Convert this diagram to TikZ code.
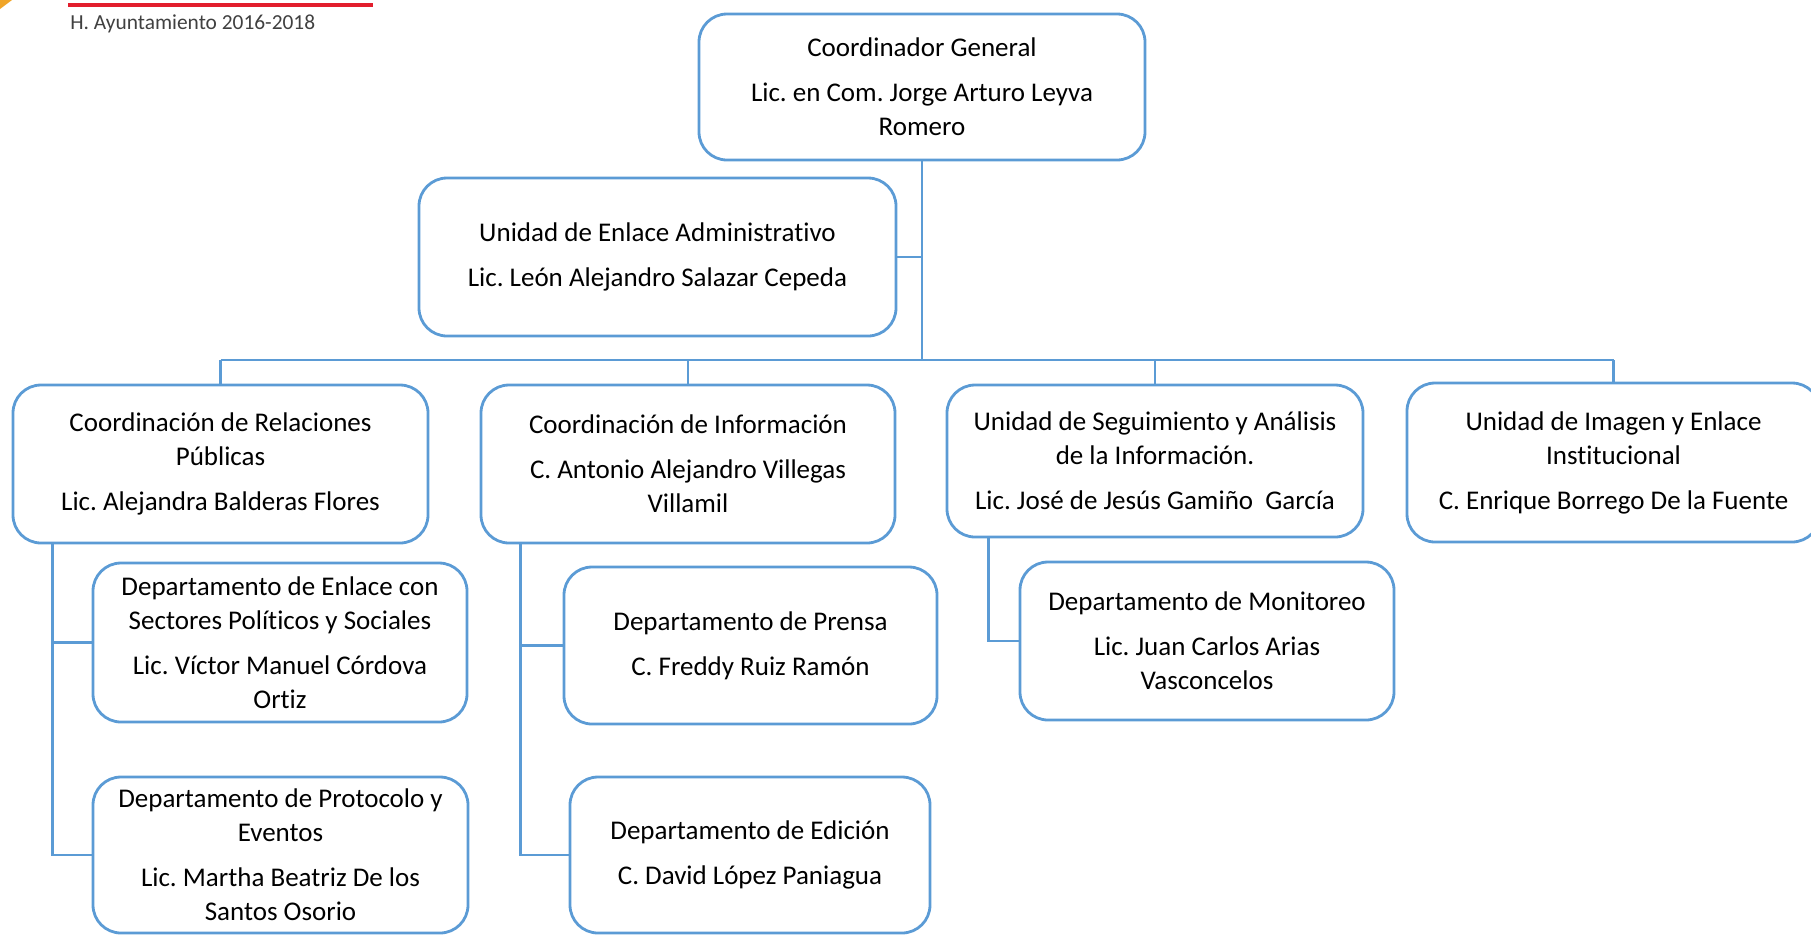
\documentclass[tikz,border=0pt]{standalone}
\usepackage{fontspec}
\setmainfont{Carlito}[Ligatures=NoCommon]
\usepackage{xcolor}
\usetikzlibrary{positioning}
\definecolor{orgblue}{RGB}{91,155,213}
\definecolor{headred}{RGB}{226,30,45}
\definecolor{headgray}{RGB}{64,64,64}
\definecolor{cornerorange}{RGB}{240,165,40}
\frenchspacing

\begin{document}
\begin{tikzpicture}[x=0.5pt, y=-0.5pt,
  box/.style={draw=orgblue, line width=1.4pt, rounded corners=14pt, fill=white, align=center,
    inner sep=0pt, font=\fontsize{13.5}{17}\selectfont},
  link/.style={draw=orgblue, line width=1.3pt}
]
\useasboundingbox (0,0) rectangle (1811,934);
\fill[cornerorange] (0,0) -- (12,0) -- (0,9) -- cycle;
\draw[headred, line width=2pt] (68,5) -- (373,5);
\node[anchor=base west, inner sep=0pt, text=headgray, font=\fontsize{10.7}{12}\selectfont] (head) at (70,29) {H. Ayuntamiento 2016-2018};

\node[box, minimum width=223pt, minimum height=73pt] (gen) at (922,87)
  {Coordinador General\\[5.5pt] Lic. en Com. Jorge Arturo Leyva\\ Romero};
\node[box, minimum width=238.5pt, minimum height=79pt] (adm) at (657.5,257)
  {Unidad de Enlace Administrativo\\[5.5pt] Lic. León Alejandro Salazar Cepeda};

\node[box, minimum width=207.5pt, minimum height=79pt] (rp) at (220.5,464)
  {Coordinación de Relaciones\\ Públicas\\[5.5pt] Lic. Alejandra Balderas Flores};
\node[box, minimum width=207pt, minimum height=79pt] (info) at (688,464)
  {Coordinación de Información\\[5.5pt] C. Antonio Alejandro Villegas\\ Villamil};
\node[box, minimum width=208pt, minimum height=76pt] (seg) at (1155,461)
  {Unidad de Seguimiento y Análisis\\ de la Información.\\[5.5pt] Lic. José de Jesús Gamiño~ García};
\node[box, minimum width=206.5pt, minimum height=79.5pt] (img) at (1613.5,462.5)
  {Unidad de Imagen y Enlace\\ Institucional\\[5.5pt] C. Enrique Borrego De la Fuente};

\node[box, minimum width=187pt, minimum height=79.5pt] (enl) at (280,642.5)
  {Departamento de Enlace con\\ Sectores Políticos y Sociales\\[5.5pt] Lic. Víctor Manuel Córdova\\ Ortiz};
\node[box, minimum width=187.5pt, minimum height=78pt] (prot) at (280.5,855)
  {Departamento de Protocolo y\\ Eventos\\[5.5pt] Lic. Martha Beatriz De los\\ Santos Osorio};
\node[box, minimum width=186.5pt, minimum height=78.5pt] (pren) at (750.5,645.5)
  {Departamento de Prensa\\[5.5pt] C. Freddy Ruiz Ramón};
\node[box, minimum width=180pt, minimum height=78pt] (edi) at (750,855)
  {Departamento de Edición\\[5.5pt] C. David López Paniagua};
\node[box, minimum width=187pt, minimum height=79pt] (mon) at (1207,641)
  {Departamento de Monitoreo\\[5.5pt] Lic. Juan Carlos Arias\\ Vasconcelos};

\coordinate (bus) at (0,360);
\draw[link] (gen.south) -- (gen.south |- bus);
\draw[link] (adm.east) -- (adm.east -| gen.south);
\draw[link] (rp.north |- bus) -- (img.north |- bus);
\draw[link] (rp.north) -- (rp.north |- bus);
\draw[link] (info.north) -- (info.north |- bus);
\draw[link] (seg.north) -- (seg.north |- bus);
\draw[link] (img.north) -- (img.north |- bus);
\draw[link] ([xshift=20.5pt]rp.south west) |- (enl.west);
\draw[link] ([xshift=20.5pt]rp.south west) |- (prot.west);
\draw[link] ([xshift=20.5pt]info.south west) |- (pren.west);
\draw[link] ([xshift=20.5pt]info.south west) |- (edi.west);
\draw[link] ([xshift=21.5pt]seg.south west) |- (mon.west);
\end{tikzpicture}
\end{document}
